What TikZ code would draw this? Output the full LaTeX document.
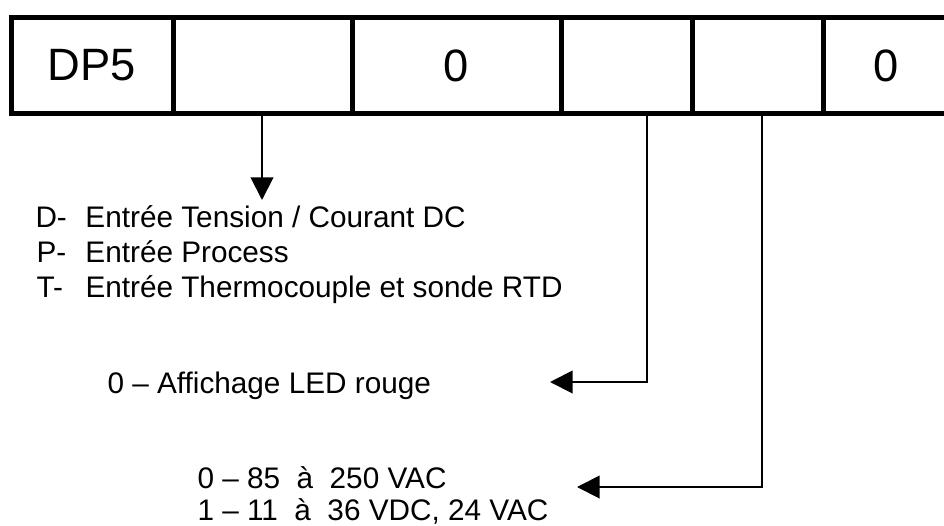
\documentclass[tikz,border=0pt]{standalone}
\usepackage{fontspec}
\setmainfont{Liberation Sans}
\usetikzlibrary{arrows.meta}

\tikzset{every picture/.style={line width=0.75pt}}
\tikzset{
codebox/.style={line width=3.75pt},
codelabel/.style={font=\fontsize{34}{40}\selectfont, inner sep=0pt},
optiontext/.style={font=\fontsize{22.3}{27}\selectfont, anchor=base west, inner sep=0pt},
pointer/.style={line width=1.5pt, -{Triangle[width=17pt,length=17pt]}}
}

\begin{document}
\begin{tikzpicture}[x=0.75pt,y=0.75pt,yscale=-1,xscale=1]
\useasboundingbox (0,0) rectangle (944,525);

%Shape: Code box
\draw [codebox]  (944,17.5) -- (11,17.5) -- (11,113.5) -- (944,113.5) ;
\foreach \xdiv in {173,352,561,692,823.5}
  \draw [codebox] (\xdiv,17.5) -- (\xdiv,113.5) ;

% Text Node
\draw (92,65.5) node [codelabel] (cellModel) {DP5};
% Text Node
\draw (456.5,65.5) node [codelabel] (cellZeroA) {0};
% Text Node
\draw (886,65.5) node [codelabel] (cellZeroB) {0};

% Connector start and end points
\coordinate (tapInput) at (262,113.5);
\coordinate (tipInput) at (262,200);
\coordinate (tapDisplay) at (647,113.5);
\coordinate (bendDisplay) at (647,382);
\coordinate (tipDisplay) at (550,382);
\coordinate (tapSupply) at (762,113.5);
\coordinate (bendSupply) at (762,487);
\coordinate (tipSupply) at (577,487);

% Text Node
\draw (35,227) node [optiontext] (inputD) {\makebox[37.5pt][l]{D-}Entrée Tension / Courant DC};
% Text Node
\draw (36,262) node [optiontext] (inputP) {\makebox[36.75pt][l]{P-}Entrée Process};
% Text Node
\draw (36,297) node [optiontext] (inputT) {\makebox[36.75pt][l]{T-}Entrée Thermocouple et sonde RTD};
% Text Node
\draw (107,393) node [optiontext] (displayLed) {0 – Affichage LED rouge};
% Text Node
\draw (197,488) node [optiontext] (supplyAC) {0 – 85~~à~~250 VAC};
% Text Node
\draw (197,520) node [optiontext] (supplyDC) {1 – 11~~à~~36 VDC, 24 VAC};

%Straight Lines
\draw [pointer] (tapInput) -- (tipInput) ;
%Straight Lines
\draw [pointer] (tapDisplay) -- (bendDisplay) -- (tipDisplay) ;
%Straight Lines
\draw [pointer] (tapSupply) -- (bendSupply) -- (tipSupply) ;

\end{tikzpicture}
\end{document}
